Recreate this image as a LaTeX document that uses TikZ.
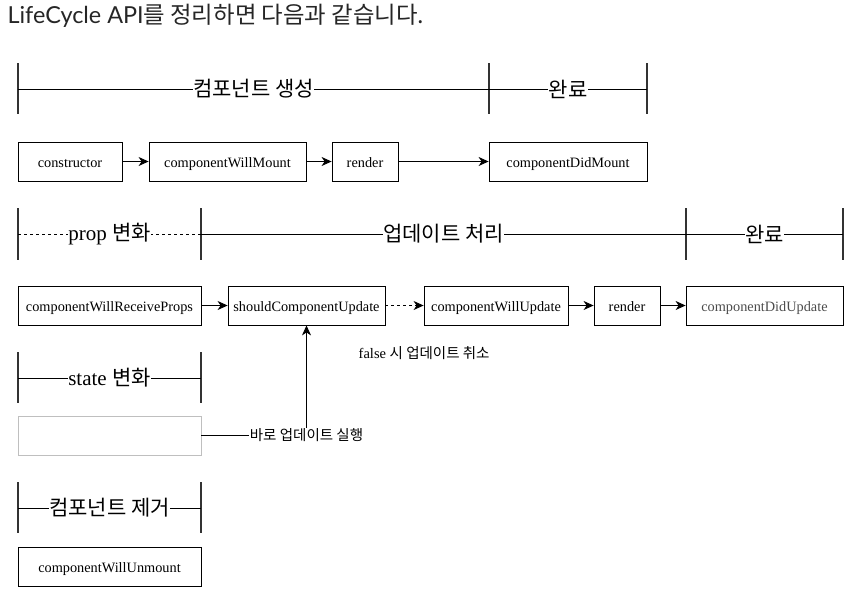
\documentclass[tikz,border=0pt]{standalone}
\usepackage{fontspec}
\setmainfont{Liberation Serif}
\newfontfamily\kr{Noto Sans CJK KR}
\newfontfamily\lato{Lato}
\usetikzlibrary{arrows.meta}

\begin{document}
\begin{tikzpicture}[x=1pt,y=-1pt,
  box/.style={draw,line width=0.8pt,minimum height=39pt,inner sep=0pt,text height=12pt,text depth=0.5pt,font=\fontsize{14.3}{16}\selectfont},
  phase/.style={fill=white,inner sep=0.5pt,font=\fontsize{21}{24}\selectfont},
  tick/.style={line width=1.3pt,draw=black!80},
  bar/.style={line width=0.9pt},
  arr/.style={-{Stealth[length=10pt,width=9pt,inset=3pt]},line width=1pt},
  note/.style={inner sep=0.5pt,font=\fontsize{14.5}{17}\selectfont}]
  \useasboundingbox (0,0) rectangle (867,606);
  \node[anchor=base west,text=black!85,font=\fontsize{23.4}{27}\selectfont] (title) at (4,23)
    {\lato LifeCycle API{\kr 를 정리하면 다음과 같습니다.}};

  % mounting
  \foreach \x in {18,489,647}{\draw[tick] (\x,63)--(\x,114);}
  \draw[bar] (18,89)--(647,89);
  \node[phase] (create) at (253.5,89) {\kr 컴포넌트 생성};
  \node[phase] (mountdone) at (568,89) {\kr 완료};
  \node[box,minimum width=104pt] (ctor) at (70,161.5) {constructor};
  \node[box,minimum width=157pt] (willmount) at (227.5,161.5) {componentWillMount};
  \node[box,minimum width=66pt] (render) at (365,161.5) {render};
  \node[box,minimum width=158pt] (didmount) at (568,161.5) {componentDidMount};
  \draw[arr] (ctor) -- (willmount);
  \draw[arr] (willmount) -- (render);
  \draw[arr] (render) -- (didmount);

  % updating
  \foreach \x in {18,201,686,843}{\draw[tick] (\x,208)--(\x,260);}
  \draw[bar,dashed] (18,234)--(201,234);
  \draw[bar] (201,234)--(843,234);
  \node[phase] (propchange) at (109.5,234) {prop {\kr 변화}};
  \node[phase] (update) at (443.5,234) {\kr 업데이트 처리};
  \node[phase] (updatedone) at (764.5,234) {\kr 완료};
  \node[box,minimum width=183pt] (receive) at (109.5,305.5) {componentWillReceiveProps};
  \node[box,minimum width=157pt] (should) at (306.5,305.5) {shouldComponentUpdate};
  \node[box,minimum width=144pt] (willupdate) at (496,305.5) {componentWillUpdate};
  \node[box,minimum width=66pt] (rerender) at (627,305.5) {render};
  \node[box,minimum width=157pt,text=black!70] (didupdate) at (764.5,305.5) {componentDidUpdate};
  \draw[arr] (receive) -- (should);
  \draw[arr,dashed] (should) -- (willupdate);
  \draw[arr] (willupdate) -- (rerender);
  \draw[arr] (rerender) -- (didupdate);
  \node[note,anchor=base west] (cancel) at (358,358) {false {\kr 시 업데이트 취소}};

  % state
  \foreach \x in {18,201}{\draw[tick] (\x,352)--(\x,403);}
  \draw[bar] (18,378)--(201,378);
  \node[phase] (statechange) at (109.5,378) {state {\kr 변화}};
  \node[box,draw=black!25,minimum width=183pt] (statebox) at (109.5,435.5) {};
  \draw[arr] (statebox) -| node[note,fill=white,font=\kr\fontsize{14.5}{17}\selectfont] (direct) {바로 업데이트 실행} (should);

  % unmounting
  \foreach \x in {18,201}{\draw[tick] (\x,482)--(\x,533);}
  \draw[bar] (18,508)--(201,508);
  \node[phase] (remove) at (109.5,508) {\kr 컴포넌트 제거};
  \node[box,minimum width=183pt] (unmount) at (109.5,566.5) {componentWillUnmount};
\end{tikzpicture}
\end{document}
